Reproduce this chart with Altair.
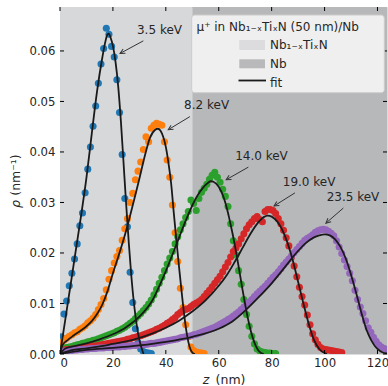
import math
import altair as alt
import pandas as pd

# ---- implantation profiles: rho(z) in 1 nm bins (bin centres at 0.5, 1.5, ...) ----
energies = ["3.5 keV", "8.2 keV", "14.0 keV", "19.0 keV", "23.5 keV"]
colors = ["#1f77b4", "#ff7f0e", "#2ca02c", "#d62728", "#9467bd"]

rho_3p5 = [0.0034, 0.0079, 0.0105, 0.0135, 0.0160, 0.0188, 0.0218, 0.0254, 0.0279, 0.0319,
           0.0366, 0.0410, 0.0451, 0.0491, 0.0536, 0.0574, 0.0605, 0.0645, 0.0633, 0.0609,
           0.0588, 0.0543, 0.0478, 0.0395, 0.0308, 0.0252, 0.0162, 0.0102, 0.0050, 0.0022,
           0.0010, 0.0005, 0.0003, 0.0002, 0.0001]

rho_8p2 = [0.0022, 0.0027, 0.0031, 0.0035, 0.0038, 0.0042, 0.0044, 0.0049, 0.0052, 0.0056,
           0.0062, 0.0066, 0.0071, 0.0078, 0.0088, 0.0098, 0.0110, 0.0127, 0.0148, 0.0165,
           0.0180, 0.0193, 0.0205, 0.0225, 0.0248, 0.0268, 0.0300, 0.0318, 0.0345, 0.0362,
           0.0380, 0.0405, 0.0430, 0.0420, 0.0447, 0.0453, 0.0457, 0.0455, 0.0453, 0.0420,
           0.0384, 0.0350, 0.0295, 0.0240, 0.0183, 0.0130, 0.0092, 0.0058, 0.0034, 0.0014,
           0.0007, 0.0004, 0.0003, 0.0002, 0.0001]

rho_14p0 = [0.0010, 0.0012, 0.0013, 0.0014, 0.0015, 0.0017, 0.0018, 0.0019, 0.0021, 0.0022,
            0.0024, 0.0025, 0.0027, 0.0028, 0.0030, 0.0032, 0.0034, 0.0036, 0.0038, 0.0040,
            0.0042, 0.0045, 0.0047, 0.0050, 0.0053, 0.0057, 0.0061, 0.0065, 0.0070, 0.0075,
            0.0080, 0.0086, 0.0092, 0.0099, 0.0107, 0.0117, 0.0128, 0.0140, 0.0152, 0.0165,
            0.0178, 0.0190, 0.0203, 0.0218, 0.0232, 0.0246, 0.0258, 0.0270, 0.0282, 0.0305,
            0.0298, 0.0284, 0.0308, 0.0320, 0.0328, 0.0336, 0.0346, 0.0354, 0.0360, 0.0350,
            0.0340, 0.0326, 0.0312, 0.0292, 0.0258, 0.0224, 0.0196, 0.0165, 0.0138, 0.0108,
            0.0078, 0.0055, 0.0035, 0.0020, 0.0010, 0.0006, 0.0004, 0.0003, 0.0002, 0.0002,
            0.0001, 0.0001]

rho_19p0 = [0.0007, 0.0008, 0.0009, 0.0009, 0.0010, 0.0010, 0.0011, 0.0012, 0.0012, 0.0013,
            0.0014, 0.0015, 0.0016, 0.0016, 0.0017, 0.0018, 0.0019, 0.0020, 0.0021, 0.0022,
            0.0023, 0.0024, 0.0025, 0.0026, 0.0027, 0.0029, 0.0030, 0.0032, 0.0033, 0.0035,
            0.0036, 0.0038, 0.0040, 0.0042, 0.0044, 0.0046, 0.0049, 0.0051, 0.0054, 0.0057,
            0.0061, 0.0064, 0.0068, 0.0072, 0.0078, 0.0082, 0.0086, 0.0088, 0.0090, 0.0094,
            0.0098, 0.0101, 0.0104, 0.0108, 0.0114, 0.0120, 0.0126, 0.0133, 0.0140, 0.0147,
            0.0154, 0.0163, 0.0172, 0.0181, 0.0192, 0.0203, 0.0210, 0.0218, 0.0228, 0.0238,
            0.0248, 0.0256, 0.0262, 0.0268, 0.0272, 0.0266, 0.0262, 0.0282, 0.0286, 0.0286,
            0.0284, 0.0278, 0.0268, 0.0258, 0.0245, 0.0230, 0.0214, 0.0192, 0.0174, 0.0153,
            0.0132, 0.0114, 0.0097, 0.0077, 0.0058, 0.0040, 0.0028, 0.0019, 0.0013, 0.0010,
            0.0009, 0.0008, 0.0007, 0.0006, 0.0005, 0.0004, 0.0003]

rho_23p5 = [0.0005, 0.0006, 0.0006, 0.0007, 0.0007, 0.0008, 0.0008, 0.0009, 0.0009, 0.0010,
            0.0010, 0.0011, 0.0011, 0.0011, 0.0012, 0.0012, 0.0012, 0.0013, 0.0013, 0.0013,
            0.0014, 0.0014, 0.0014, 0.0015, 0.0015, 0.0016, 0.0016, 0.0017, 0.0017, 0.0018,
            0.0018, 0.0019, 0.0019, 0.0020, 0.0021, 0.0021, 0.0022, 0.0023, 0.0024, 0.0025,
            0.0026, 0.0027, 0.0028, 0.0029, 0.0030, 0.0032, 0.0033, 0.0034, 0.0035, 0.0036,
            0.0038, 0.0039, 0.0041, 0.0043, 0.0045, 0.0047, 0.0049, 0.0051, 0.0053, 0.0056,
            0.0059, 0.0062, 0.0065, 0.0068, 0.0071, 0.0075, 0.0079, 0.0083, 0.0088, 0.0093,
            0.0098, 0.0103, 0.0108, 0.0114, 0.0119, 0.0124, 0.0129, 0.0134, 0.0140, 0.0146,
            0.0152, 0.0157, 0.0163, 0.0169, 0.0176, 0.0182, 0.0188, 0.0194, 0.0201, 0.0207,
            0.0213, 0.0219, 0.0225, 0.0229, 0.0232, 0.0236, 0.0241, 0.0244, 0.0246, 0.0247,
            0.0246, 0.0243, 0.0239, 0.0234, 0.0224, 0.0212, 0.0199, 0.0186, 0.0173, 0.0160,
            0.0145, 0.0126, 0.0108, 0.0093, 0.0080, 0.0066, 0.0052, 0.0043, 0.0033, 0.0025,
            0.0018, 0.0014, 0.0011, 0.0009]

profiles = [rho_3p5, rho_8p2, rho_14p0, rho_19p0, rho_23p5]

# ---- fitted curves ----
fit_z_3p5 = [0, 2, 4, 6, 8, 10, 12, 14, 16, 17, 18, 18.5, 19, 20, 21, 22, 23, 24, 25, 26,
             27, 28, 29, 30, 31, 31.6]
fit_rho_3p5 = [0, 0.0068, 0.0137, 0.0206, 0.0275, 0.0349, 0.0436, 0.0520, 0.0587, 0.0615,
               0.0633, 0.0634, 0.0628, 0.0610, 0.0578, 0.0530, 0.0462, 0.0380, 0.0297, 0.0220,
               0.0152, 0.0098, 0.0057, 0.0028, 0.0009, 0.0]

fit_z_8p2 = [0, 1, 3, 5, 8, 10, 12, 14, 16, 18, 20, 22, 24, 26, 28, 30, 32, 34, 36, 37,
             38, 39, 40, 41, 42, 43, 44, 45, 46, 47, 48, 49, 50, 51]
fit_rho_8p2 = [0, 0.0018, 0.0028, 0.0036, 0.0047, 0.0055, 0.0065, 0.0079, 0.0098, 0.0125,
               0.0160, 0.0192, 0.0226, 0.0264, 0.0305, 0.0347, 0.0391, 0.0428, 0.0444, 0.0446,
               0.0442, 0.0430, 0.0410, 0.0378, 0.0338, 0.0280, 0.0225, 0.0172, 0.0122, 0.0075,
               0.0038, 0.0014, 0.0003, 0.0]

fit_z_14p0 = [0, 2, 5, 10, 15, 20, 25, 30, 35, 38, 40, 42, 44, 46, 48, 50, 52, 54, 56, 57,
              58, 60, 62, 63, 64, 65, 66, 67, 68, 69, 70, 71, 72, 73, 74, 75, 76, 77]
fit_rho_14p0 = [0, 0.0011, 0.0015, 0.0021, 0.0029, 0.0039, 0.0053, 0.0074, 0.0107, 0.0140,
                0.0164, 0.0190, 0.0217, 0.0244, 0.0270, 0.0294, 0.0314, 0.0329, 0.0339, 0.0342,
                0.0341, 0.0331, 0.0308, 0.0290, 0.0268, 0.0244, 0.0218, 0.0189, 0.0158, 0.0127,
                0.0098, 0.0071, 0.0048, 0.0030, 0.0016, 0.0007, 0.0002, 0.0]

fit_z_19p0 = [0, 5, 10, 15, 20, 25, 30, 35, 40, 45, 50, 55, 60, 63, 66, 69, 72, 75, 77, 78.5,
              80, 82, 84, 86, 88, 90, 92, 94, 96, 98, 100, 101]
fit_rho_19p0 = [0, 0.0008, 0.0011, 0.0015, 0.0020, 0.0025, 0.0032, 0.0041, 0.0052, 0.0066,
                0.0084, 0.0106, 0.0135, 0.0156, 0.0182, 0.0210, 0.0238, 0.0261, 0.0271, 0.0274,
                0.0272, 0.0263, 0.0246, 0.0220, 0.0185, 0.0143, 0.0100, 0.0060, 0.0028, 0.0010,
                0.0002, 0.0]

fit_z_23p5 = [0, 10, 20, 30, 40, 50, 60, 65, 70, 75, 80, 85, 90, 93, 96, 98, 100, 102, 104,
              106, 108, 110, 112, 114, 115, 116, 117, 118, 119, 120, 122, 124]
fit_rho_23p5 = [0, 0.0008, 0.0012, 0.0017, 0.0024, 0.0034, 0.0050, 0.0064, 0.0086, 0.0112,
                0.0140, 0.0172, 0.0204, 0.0220, 0.0231, 0.0235, 0.0237, 0.0235, 0.0227, 0.0212,
                0.0189, 0.0157, 0.0120, 0.0080, 0.0062, 0.0046, 0.0034, 0.0024, 0.0016, 0.0010,
                0.0003, 0.0001]

fits = [(fit_z_3p5, fit_rho_3p5), (fit_z_8p2, fit_rho_8p2), (fit_z_14p0, fit_rho_14p0),
        (fit_z_19p0, fit_rho_19p0), (fit_z_23p5, fit_rho_23p5)]

# ---- layers of the sample ----
layer_names = ["Nb\u2081\u208b\u2093Ti\u2093N", "Nb"]
layer_start = [0, 50]
layer_end = [50, 130]
layer_colors = ["#d7d8da", "#b7b8ba"]

# ---- energy labels with arrows (text anchor, arrow tail, arrow head) ----
label_z = [29.1, 46.9, 66.2, 84.2, 100.8]
label_rho = [0.0642, 0.0493, 0.0392, 0.0341, 0.0310]
tail_z = [31.5, 49.1, 71.2, 88.8, 107.1]
tail_rho = [0.0620, 0.0470, 0.0370, 0.0319, 0.0289]
head_z = [22.7, 40.9, 62.8, 80.9, 100.5]
head_rho = [0.0595, 0.0444, 0.0345, 0.0293, 0.0259]

x_ticks = [0, 20, 40, 60, 80, 100, 120]
y_ticks = [0.0, 0.01, 0.02, 0.03, 0.04, 0.05, 0.06]

# ---- geometry ----
W, H = 327, 347
ZMAX, YMAX = 123.6, 0.0687
FONT = "DejaVu Sans"
INK = "#262626"

xs = alt.Scale(domain=[0, ZMAX], nice=False, zero=False)
ys = alt.Scale(domain=[0, YMAX], nice=False, zero=False)

pts = pd.concat(
    [pd.DataFrame({"z": [i + 0.5 for i in range(len(r))], "rho": r, "E": e})
     for e, r in zip(energies, profiles)], ignore_index=True)
fit_df = pd.concat(
    [pd.DataFrame({"z": fz, "rho": fr, "E": e}) for e, (fz, fr) in zip(energies, fits)],
    ignore_index=True)

ann = pd.DataFrame({"label": energies, "lz": label_z, "lr": label_rho,
                    "tz": tail_z, "tr": tail_rho, "hz": head_z, "hr": head_rho})
ann["ang"] = [
    math.degrees(math.atan2(-(h_r - t_r) * H / YMAX, (h_z - t_z) * W / ZMAX)) % 360
    for t_z, t_r, h_z, h_r in zip(tail_z, tail_rho, head_z, head_rho)]

one = pd.DataFrame({"k": [0]})

x_axis = alt.Axis(values=x_ticks, ticks=False, domain=False, grid=False, title=None,
                  labelFontSize=11.7, labelFont=FONT, labelColor=INK, labelPadding=3)
y_axis = alt.Axis(values=y_ticks, format=".2f", ticks=False, domain=False, grid=False,
                  title=None, labelFontSize=11.7, labelFont=FONT, labelColor=INK,
                  labelPadding=5)


def X(field):
    return alt.X(field, scale=xs, axis=x_axis)


def Y(field):
    return alt.Y(field, scale=ys, axis=y_axis)


# shaded sample layers
backgrounds = [
    alt.Chart(pd.DataFrame({"start": [s], "end": [e]})).mark_rect(
        clip=True, color=c).encode(
        x=X("start:Q"), x2="end:Q", y=alt.value(0), y2=alt.value(H))
    for s, e, c in zip(layer_start, layer_end, layer_colors)
]

points = alt.Chart(pts).mark_circle(size=50, opacity=1, clip=True).encode(
    x=X("z:Q"),
    y=Y("rho:Q"),
    color=alt.Color("E:N", scale=alt.Scale(domain=energies, range=colors), legend=None),
)

fit_lines = alt.Chart(fit_df).mark_line(color="#1a1a1a", strokeWidth=1.8,
                                        interpolate="monotone", clip=True).encode(
    x=X("z:Q"), y=Y("rho:Q"), detail="E:N",
)

arrow_shafts = alt.Chart(ann).mark_rule(color="#333333", strokeWidth=1).encode(
    x=X("tz:Q"), y=Y("tr:Q"), x2="hz:Q", y2="hr:Q",
)
arrow_heads = alt.Chart(ann).mark_point(shape="M-2,-1L0,0L-2,1", filled=False,
                                        strokeWidth=1, size=23, color="#333333",
                                        opacity=1).encode(
    x=X("hz:Q"), y=Y("hr:Q"), angle=alt.Angle("ang:Q", scale=None),
)
arrow_text = alt.Chart(ann).mark_text(align="left", baseline="middle", fontSize=12,
                                      font=FONT, color=INK).encode(
    x=X("lz:Q"), y=Y("lr:Q"), text="label:N",
)

# inward-pointing tick marks on all four sides
tick_len = 4
xt = pd.DataFrame({"v": x_ticks})
yt = pd.DataFrame({"v": y_ticks})
ticks_bottom = alt.Chart(xt).mark_rule(color="black", strokeWidth=1).encode(
    x=X("v:Q"), y=alt.value(H), y2=alt.value(H - tick_len))
ticks_top = alt.Chart(xt).mark_rule(color="black", strokeWidth=1).encode(
    x=X("v:Q"), y=alt.value(0), y2=alt.value(tick_len))
ticks_left = alt.Chart(yt).mark_rule(color="black", strokeWidth=1).encode(
    y=Y("v:Q"), x=alt.value(0), x2=alt.value(tick_len))
ticks_right = alt.Chart(yt).mark_rule(color="black", strokeWidth=1).encode(
    y=Y("v:Q"), x=alt.value(W), x2=alt.value(W - tick_len))

# axis titles (italic symbol + upright unit)
x_title_sym = alt.Chart(one).mark_text(text="z", fontSize=12.5, font=FONT, fontStyle="italic",
                                       color=INK, baseline="middle").encode(
    x=alt.value(146), y=alt.value(373))
x_title_unit = alt.Chart(one).mark_text(text="(nm)", fontSize=12.5, font=FONT, color=INK,
                                        baseline="middle").encode(
    x=alt.value(170.5), y=alt.value(373))
y_title_sym = alt.Chart(one).mark_text(text="\u03c1", fontSize=12.5, font=FONT,
                                       fontStyle="italic", color=INK, angle=270,
                                       baseline="middle").encode(
    x=alt.value(-44), y=alt.value(197))
y_title_unit = alt.Chart(one).mark_text(text="(nm\u207b\u00b9)", fontSize=12.5, font=FONT,
                                        color=INK, angle=270, baseline="middle").encode(
    x=alt.value(-44), y=alt.value(168))

# legend box
legend_box = alt.Chart(one).mark_rect(fill="#efefef", stroke="#cccccc", strokeWidth=1,
                                      cornerRadius=3).encode(
    x=alt.value(131.7), x2=alt.value(324.3), y=alt.value(8), y2=alt.value(85.7))
legend_title = alt.Chart(one).mark_text(
    text="\u03bc\u207a in Nb\u2081\u208b\u2093Ti\u2093N (50 nm)/Nb", fontSize=12, font=FONT,
    color=INK, align="left", baseline="alphabetic").encode(
    x=alt.value(136.5), y=alt.value(23.7))
legend_patch1 = alt.Chart(one).mark_rect(fill="#dcdcde").encode(
    x=alt.value(179.3), x2=alt.value(205), y=alt.value(33), y2=alt.value(43))
legend_patch2 = alt.Chart(one).mark_rect(fill="#b9b9bb").encode(
    x=alt.value(179.3), x2=alt.value(205), y=alt.value(52.3), y2=alt.value(61.3))
legend_line = alt.Chart(one).mark_rule(color="#1a1a1a", strokeWidth=1.8).encode(
    x=alt.value(178.5), x2=alt.value(206), y=alt.value(73.5))
legend_lab1 = alt.Chart(one).mark_text(text=layer_names[0], fontSize=12, font=FONT,
                                       color=INK, align="left",
                                       baseline="alphabetic").encode(
    x=alt.value(210), y=alt.value(42))
legend_lab2 = alt.Chart(one).mark_text(text=layer_names[1], fontSize=12, font=FONT,
                                       color=INK, align="left",
                                       baseline="alphabetic").encode(
    x=alt.value(210), y=alt.value(61.3))
legend_lab3 = alt.Chart(one).mark_text(text="fit", fontSize=12, font=FONT, color=INK,
                                       align="left", baseline="alphabetic").encode(
    x=alt.value(210), y=alt.value(80))

chart = alt.layer(
    *backgrounds, points, fit_lines, arrow_shafts, arrow_heads, arrow_text,
    ticks_bottom, ticks_top, ticks_left, ticks_right,
    x_title_sym, x_title_unit, y_title_sym, y_title_unit,
    legend_box, legend_title, legend_patch1, legend_patch2, legend_line,
    legend_lab1, legend_lab2, legend_lab3,
).properties(
    width=W, height=H,
    padding={"left": 60, "top": 7, "right": 1, "bottom": 32},
    autosize=alt.AutoSizeParams(type="none"),
).configure_view(
    stroke="black", strokeWidth=1,
).configure(background="white")

chart.save("out.html", embed_options={"renderer": "svg", "actions": False})
